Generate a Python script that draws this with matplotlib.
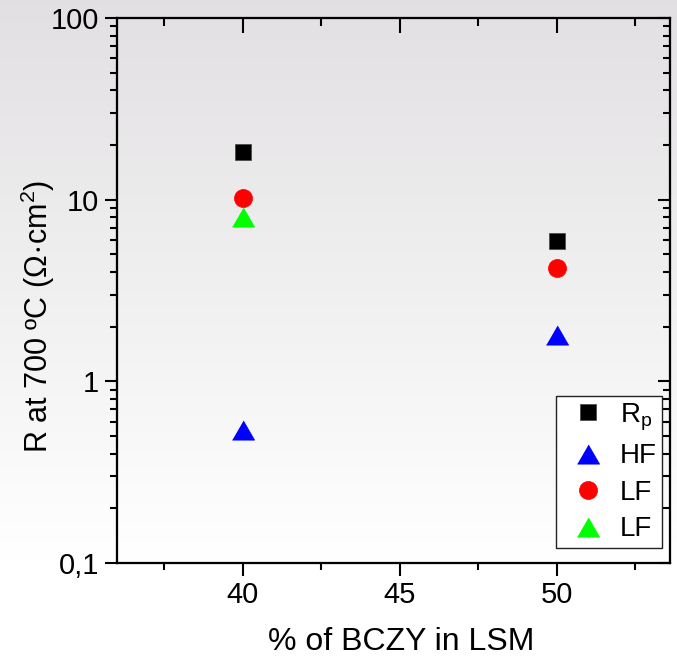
import matplotlib
matplotlib.use("Agg")
import matplotlib.pyplot as plt
import numpy as np
from matplotlib.ticker import FixedLocator, FixedFormatter, NullFormatter, LogLocator

plt.rcParams['font.family'] = ['Liberation Sans', 'DejaVu Sans']
plt.rcParams['mathtext.fontset'] = 'custom'
plt.rcParams['mathtext.rm'] = 'Liberation Sans'

# data
bczy = [40, 50]
r_p = [18.4, 5.9]
r_hf = [0.54, 1.81]
r_lf = [10.2, 4.2]
r_lf2 = [8.0]
bczy_lf2 = [40]

fig = plt.figure(figsize=(6.77, 6.58), dpi=100)

# grey-to-white backdrop
bg = fig.add_axes([0, 0, 1, 1], zorder=-10)
grad = np.linspace(0, 1, 256).reshape(-1, 1)
grad = np.clip(grad / 0.85, 0, 1)
top = np.array([0.886, 0.878, 0.886])
rgb = top[None, None, :] * (1 - grad[:, :, None]) + 1.0 * grad[:, :, None]
bg.imshow(rgb, aspect='auto', extent=[0, 1, 0, 1], origin='upper')
bg.axis('off')

ax = fig.add_axes([0.1728, 0.1444, 0.8169, 0.8282])
ax.set_facecolor('none')

tri = [(-1, -0.866), (1, -0.866), (0, 0.866)]
ax.plot(bczy, r_p, ls='none', marker='s', ms=11.5, mfc='black', mec='#444444', mew=0.5, label=r'R$_\mathregular{p}$')
ax.plot(bczy, r_hf, ls='none', marker=tri, ms=16, mfc='#0000ff', mec='#0000ff', mew=0.5, label='HF')
ax.plot(bczy, r_lf, ls='none', marker='o', ms=13, mfc='#ff0000', mec='#ff0000', mew=0.5, label='LF')
ax.plot(bczy_lf2, r_lf2, ls='none', marker=tri, ms=16, mfc='#00ff00', mec='#00ff00', mew=0.5, label='LF')

ax.set_yscale('log')
ax.set_ylim(0.1, 100)
ax.set_xlim(36, 53.6)

ax.set_xticks([40, 45, 50])
ax.set_xticks([37.5, 42.5, 47.5, 52.5], minor=True)
ax.yaxis.set_major_locator(FixedLocator([0.1, 1, 10, 100]))
ax.yaxis.set_major_formatter(FixedFormatter(['0,1', '1', '10', '100']))
ax.yaxis.set_minor_locator(LogLocator(base=10, subs=np.arange(2, 10)))
ax.yaxis.set_minor_formatter(NullFormatter())

for s in ax.spines.values():
    s.set_linewidth(1.5)
ax.tick_params(which='both', direction='out', width=1.5, labelsize=21, pad=4,
               top=False, right=False)
ax.tick_params(which='major', length=9)
ax.tick_params(which='minor', length=5)

# mirrored ticks pointing inwards on top and right
axt = ax.twiny()
axt.set_xlim(ax.get_xlim())
axt.set_xticks([40, 45, 50])
axt.set_xticks([37.5, 42.5, 47.5, 52.5], minor=True)
axt.tick_params(which='both', direction='in', width=1.5, labeltop=False)
axt.tick_params(which='major', length=11)
axt.tick_params(which='minor', length=6)
axr = ax.twinx()
axr.set_yscale('log')
axr.set_ylim(ax.get_ylim())
axr.yaxis.set_minor_locator(LogLocator(base=10, subs=np.arange(2, 10)))
axr.tick_params(which='both', direction='in', width=1.5, labelright=False)
axr.tick_params(which='major', length=9)
axr.tick_params(which='minor', length=5)
for a in (axt, axr):
    for s in a.spines.values():
        s.set_linewidth(1.5)

ax.set_xlabel('% of BCZY in LSM', fontsize=23)
ax.xaxis.set_label_coords(0.5136, -0.118)
ax.set_ylabel(r'R at 700 ºC ($\mathregular{\Omega\!\cdot\!cm^2}$)', fontsize=22)
ax.yaxis.set_label_coords(-0.108, 0.453)

leg = axr.legend(*ax.get_legend_handles_labels(), loc='lower right',
                 bbox_to_anchor=(0.9855, 0.0275), borderaxespad=0,
                 fancybox=False, edgecolor='#222222', framealpha=1,
                 fontsize=20, labelspacing=0.38, handlelength=1.95,
                 handletextpad=0.15, borderpad=0.2, markerscale=1.0)
leg.get_frame().set_linewidth(1.0)

fig.savefig('out.png', dpi=100)
